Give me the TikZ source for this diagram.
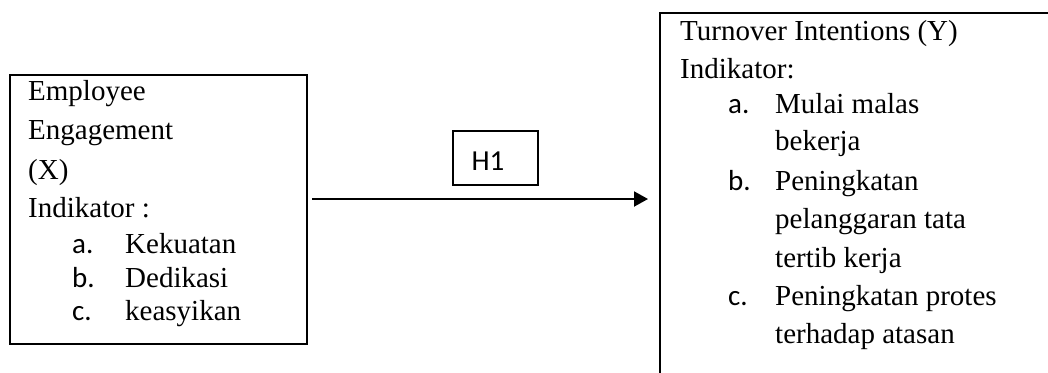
\documentclass[tikz,border=0pt]{standalone}
\usepackage{fontspec}
\setmainfont{Liberation Serif}
\newfontfamily\carlfont{Carlito}
\usetikzlibrary{arrows.meta}
\begin{document}
\begin{tikzpicture}[x=1pt,y=-1pt,
  boxst/.style={draw=black,line width=2pt,inner sep=0pt,anchor=north west},
  txt/.style={anchor=base west,inner sep=0pt,font=\fontsize{29}{34}\selectfont},
  lbl/.style={anchor=base west,inner sep=0pt,font=\carlfont\fontsize{29}{34}\selectfont},
  arr/.style={line width=2pt,-{Triangle[length=14pt,width=15pt]}}]
\useasboundingbox (0,0) rectangle (1048,372);
\clip (0,0) rectangle (1048,372);
% boxes
\node[boxst,minimum width=297pt,minimum height=269pt] (L) at (9,74) {};
\node[boxst,minimum width=420pt,minimum height=400pt] (R) at (659,12) {};
\node[boxst,minimum width=85pt,minimum height=54pt] (H) at (452,130) {};
\node[lbl,anchor=base] (h1t) at (488,170) {H1};
% left text
\node[txt] (l1) at (28,100) {Employee};
\node[txt] (l2) at (28,139) {Engagement};
\node[txt] (l3) at (28,179) {(X)};
\node[txt] (l4) at (28,217) {Indikator :};
\node[lbl] (la) at (72,253) {a.};
\node[txt] (li1) at (125,253) {Kekuatan};
\node[lbl] (lb) at (72,287) {b.};
\node[txt] (li2) at (125,287) {Dedikasi};
\node[lbl] (lc) at (72,320) {c.};
\node[txt] (li3) at (125,320) {keasyikan};
% right text
\node[txt] (r1) at (680,40) {Turnover Intentions (Y)};
\node[txt] (r2) at (680,78) {Indikator:};
\node[lbl] (ra) at (728,113) {a.};
\node[txt] (ri1) at (775,113) {Mulai malas};
\node[txt] (ri1b) at (775,150) {bekerja};
\node[lbl] (rb) at (728,190) {b.};
\node[txt] (ri2) at (775,190) {Peningkatan};
\node[txt] (ri2b) at (775,228) {pelanggaran tata};
\node[txt] (ri2c) at (775,267) {tertib kerja};
\node[lbl] (rc) at (728,305) {c.};
\node[txt] (ri3) at (775,305) {Peningkatan protes};
\node[txt] (ri3b) at (775,343) {terhadap atasan};
% arrow
\coordinate (a1) at (312,199);
\coordinate (a2) at (648,199);
\draw[arr] (a1) -- (a2);
\end{tikzpicture}
\end{document}
